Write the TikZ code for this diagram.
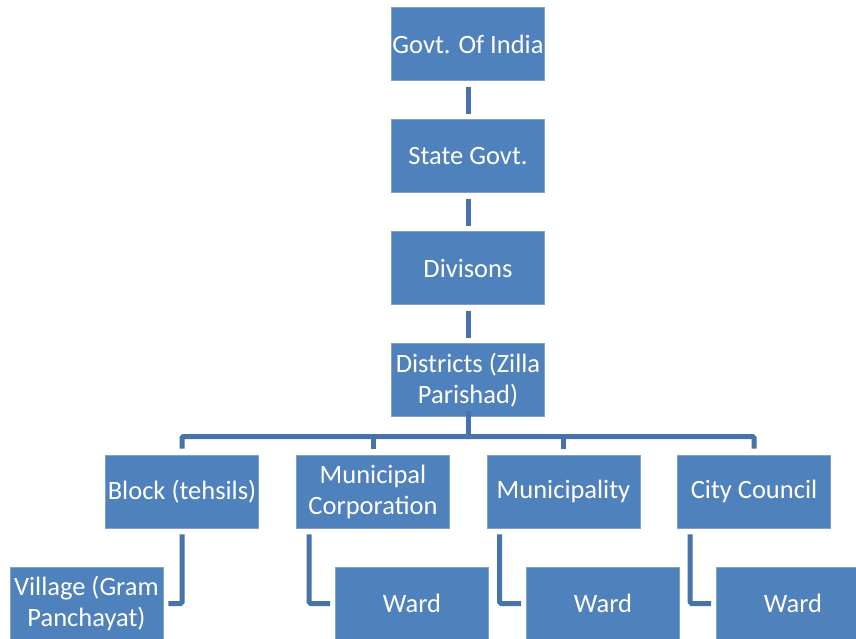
\documentclass[tikz,border=0pt]{standalone}
\usepackage{fontspec}
\setmainfont{Carlito}
\definecolor{boxblue}{HTML}{4F81BD}
\definecolor{boxedge}{HTML}{7EA2D0}
\definecolor{linkblue}{HTML}{4573AA}
\begin{document}
\begin{tikzpicture}[x=1pt,y=-1pt,
  orgbox/.style={rectangle, fill=boxblue, draw=boxedge, line width=0.7pt,
    minimum width=153pt, minimum height=73pt, inner sep=0pt,
    text=white, align=center, font=\fontsize{26.5}{31}\selectfont},
  conn/.style={draw=linkblue, line width=5pt, rounded corners=1.5pt}]
\clip (0,0) rectangle (856,639);
\fill[white] (0,0) rectangle (856,639);
\node[orgbox] (gov)   at (468,44)  {Govt. Of India};
\node[orgbox] (state) at (468,156) {State Govt.};
\node[orgbox] (div)   at (468,268) {Divisons};
\node[orgbox] (dist)  at (468,380) {Districts (Zilla\\Parishad)};
\node[orgbox] (blk)   at (182,491.5) {Block (tehsils)};
\node[orgbox] (mc)    at (373,491.5) {Municipal\\Corporation};
\node[orgbox] (mun)   at (563.5,491.5) {Municipality};
\node[orgbox] (cc)    at (754,491.5) {City Council};
\node[orgbox] (vil)   at (86.5,603.5) {Village (Gram\\Panchayat)};
\node[orgbox] (w1)    at (412,603.5) {Ward};
\node[orgbox] (w2)    at (603,603.5) {Ward};
\node[orgbox] (w3)    at (793,603.5) {Ward};
\coordinate (bus) at (468,436.5);
\draw[conn, shorten <=6pt, shorten >=5pt] (gov) -- (state);
\draw[conn, shorten <=6pt, shorten >=5pt] (state) -- (div);
\draw[conn, shorten <=6pt, shorten >=5pt] (div) -- (dist);
\draw[conn] ([yshift=6pt]dist.south) -- (bus);
\draw[conn] ([yshift=6pt]blk.north) |- (bus) -| ([yshift=6pt]cc.north);
\draw[conn] (mc.north |- bus) -- ([yshift=6pt]mc.north);
\draw[conn] (mun.north |- bus) -- ([yshift=6pt]mun.north);
\draw[conn] ([yshift=-6pt]blk.south) |- ([xshift=5pt]vil.east);
\draw[conn] ([xshift=13pt,yshift=-6pt]mc.south west) |- ([xshift=-5pt]w1.west);
\draw[conn] ([xshift=13pt,yshift=-6pt]mun.south west) |- ([xshift=-5pt]w2.west);
\draw[conn] ([xshift=13pt,yshift=-6pt]cc.south west) |- ([xshift=-5pt]w3.west);
\end{tikzpicture}
\end{document}
